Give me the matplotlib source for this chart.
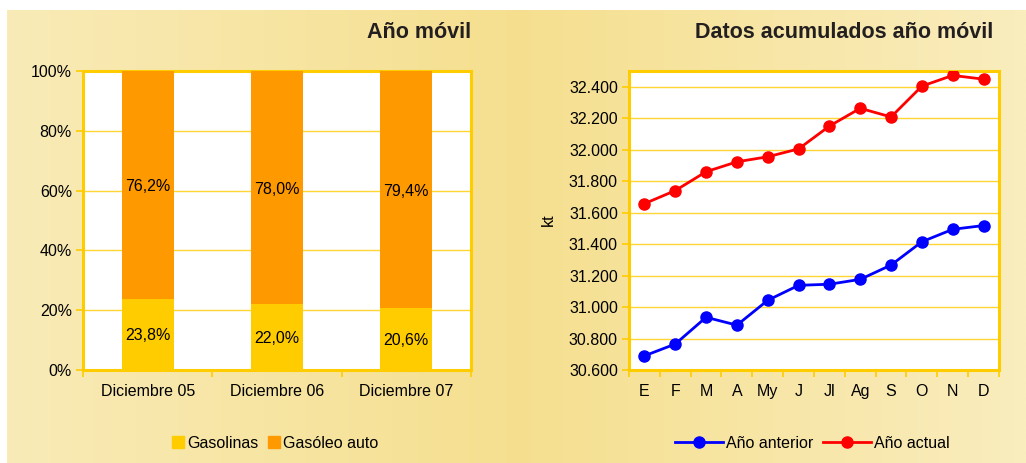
import numpy as np
import matplotlib
matplotlib.use('Agg')
import matplotlib.pyplot as plt
from matplotlib.patches import Patch
from matplotlib.lines import Line2D
from matplotlib.ticker import FuncFormatter, FixedLocator

plt.rcParams['font.family'] = ['Liberation Sans', 'DejaVu Sans']

# Left chart: share of consumption
periods = ['Diciembre 05', 'Diciembre 06', 'Diciembre 07']
gasolinas = [23.8, 22.0, 20.6]
gasoleo = [76.2, 78.0, 79.4]

# Right chart: accumulated data (kt)
months = ['E', 'F', 'M', 'A', 'My', 'J', 'Jl', 'Ag', 'S', 'O', 'N', 'D']
anio_anterior = [30690, 30765, 30935, 30885, 31043, 31138, 31145, 31176, 31267, 31415, 31494, 31518]
anio_actual = [31657, 31740, 31860, 31923, 31955, 32005, 32150, 32263, 32208, 32404, 32472, 32448]

YELLOW = '#FFCC00'
ORANGE = '#FF9900'
GRID = '#FFD633'
FS = 11.5

W, H = 1026, 463
fig = plt.figure(figsize=(W / 100, H / 100), dpi=100)

# background gradient panel
bg = fig.add_axes([7 / W, 0, 1 - 7 / W, 453 / H])
xs = np.linspace(0, 1, 600)
split = (520 - 7) / (W - 7)
c_left = np.array([249, 235, 183]) / 255
c_mid = np.array([245, 223, 143]) / 255
c_right = np.array([250, 237, 190]) / 255
grad = np.zeros((1, len(xs), 3))
for i, x in enumerate(xs):
    if x < split:
        t = x / split
        grad[0, i] = c_left + (c_mid - c_left) * t
    else:
        t = (x - split) / (1 - split)
        grad[0, i] = c_mid + (c_right - c_mid) * t
bg.imshow(grad, aspect='auto', extent=[0, 1, 0, 1])
bg.set_axis_off()


def style_axes(ax):
    for s in ax.spines.values():
        s.set_color(YELLOW)
        s.set_linewidth(2.2)
    ax.tick_params(axis='y', which='major', length=5, color=YELLOW, width=1.2,
                   labelsize=FS, pad=3)
    ax.tick_params(axis='x', which='major', length=0, labelsize=FS, pad=10)
    ax.tick_params(axis='x', which='minor', length=5, color=YELLOW, width=1.2)
    ax.set_facecolor('white')
    ax.set_axisbelow(True)


# ---- left chart ----
ax1 = fig.add_axes([83 / W, 93 / H, 388 / W, 299 / H])
x = np.arange(len(periods))
ax1.bar(x, gasolinas, width=0.4, color=YELLOW, zorder=3)
ax1.bar(x, gasoleo, width=0.4, bottom=gasolinas, color=ORANGE, zorder=3)
for i in range(len(periods)):
    ax1.text(x[i], gasolinas[i] / 2, f'{gasolinas[i]:.1f}%'.replace('.', ','),
             ha='center', va='center_baseline', fontsize=FS, zorder=4)
    ax1.text(x[i], gasolinas[i] + gasoleo[i] / 2, f'{gasoleo[i]:.1f}%'.replace('.', ','),
             ha='center', va='center_baseline', fontsize=FS, zorder=4)
ax1.set_xlim(-0.5, len(periods) - 0.5)
ax1.set_ylim(0, 100)
ax1.set_yticks(np.arange(0, 101, 20))
ax1.yaxis.set_major_formatter(FuncFormatter(lambda v, p: f'{v:.0f}%'))
ax1.set_xticks(x)
ax1.set_xticklabels(periods)
ax1.xaxis.set_minor_locator(FixedLocator(np.arange(-0.5, len(periods), 1)))
ax1.yaxis.grid(True, color=GRID, linewidth=1)
style_axes(ax1)

fig.text(471 / W, (H - 33) / H, 'Año móvil', ha='right', va='center',
         fontsize=15.5, fontweight='bold', color='#231F20')

leg1 = fig.legend(handles=[Patch(color=YELLOW, label='Gasolinas'),
                           Patch(color=ORANGE, label='Gasóleo auto')],
                  loc='center', bbox_to_anchor=(275 / W, 20 / H), ncol=2,
                  frameon=False, fontsize=FS, handlelength=0.75, handleheight=0.75,
                  handletextpad=0.2, columnspacing=0.6)

# ---- right chart ----
ax2 = fig.add_axes([629 / W, 93 / H, 370 / W, 299 / H])
m = np.arange(len(months))
ax2.plot(m, anio_anterior, color='#0000FF', lw=2, marker='o', ms=8, zorder=3)
ax2.plot(m, anio_actual, color='#FF0000', lw=2, marker='o', ms=8, zorder=3)
ax2.set_xlim(-0.5, len(months) - 0.5)
ax2.set_ylim(30600, 32500)
ax2.set_yticks(np.arange(30600, 32401, 200))
ax2.yaxis.set_major_formatter(FuncFormatter(lambda v, p: f'{v:,.0f}'.replace(',', '.')))
ax2.set_xticks(m)
ax2.set_xticklabels(months)
ax2.xaxis.set_minor_locator(FixedLocator(np.arange(-0.5, len(months), 1)))
ax2.yaxis.grid(True, color=GRID, linewidth=1)
style_axes(ax2)

fig.text(548 / W, (H - 220) / H, 'kt', rotation=90, ha='center', va='center', fontsize=FS)
fig.text(993 / W, (H - 33) / H, 'Datos acumulados año móvil', ha='right', va='center',
         fontsize=15.5, fontweight='bold', color='#231F20')

leg2 = fig.legend(handles=[Line2D([], [], color='#0000FF', lw=2, marker='o', ms=8, label='Año anterior'),
                           Line2D([], [], color='#FF0000', lw=2, marker='o', ms=8, label='Año actual')],
                  loc='center', bbox_to_anchor=(812 / W, 20 / H), ncol=2,
                  frameon=False, fontsize=FS, handlelength=3, handletextpad=0.2,
                  columnspacing=0.6)

fig.savefig('out.png', dpi=100)
